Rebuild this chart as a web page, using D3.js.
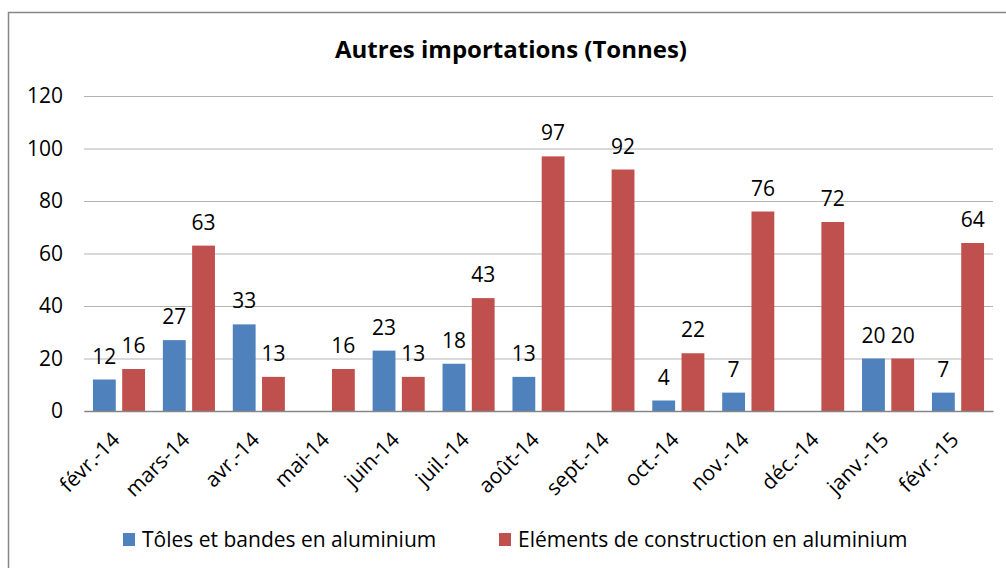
<!DOCTYPE html>
<html><head><meta charset="utf-8">
<script src="https://cdnjs.cloudflare.com/ajax/libs/d3/7.8.5/d3.min.js"></script>
<style>body{margin:0;background:#fff}svg{display:block}text{font-family:"Open Sans",sans-serif;fill:#000}</style>
</head><body>
<script>
const categories = ["févr.-14","mars-14","avr.-14","mai-14","juin-14","juil.-14","août-14","sept.-14","oct.-14","nov.-14","déc.-14","janv.-15","févr.-15"];
const seriesNames = ["Tôles et bandes en aluminium","Eléments de construction en aluminium"];
const toles = [12,27,33,null,23,18,13,null,4,7,null,20,7];
const elements = [16,63,13,16,13,43,97,92,22,76,72,20,64];
const yTicks = [0,20,40,60,80,100,120];
const colors = ["#4F81BD","#C0504D"];

const W=1006,H=568;
const FS=21;
const svg=d3.select("body").append("svg").attr("width",W).attr("height",H);
svg.append("rect").attr("x",8.5).attr("y",12.5).attr("width",1010).attr("height",600).attr("fill","#fff").attr("stroke","#868686").attr("stroke-width",1.5);

const L=84,R=993,T=96,B=411;
const x=d3.scaleBand().domain(categories).range([L,R]).paddingInner(0.255).paddingOuter(0.128);
const xs=d3.scaleBand().domain([0,1]).range([0,x.bandwidth()]).paddingInner(0.22);
const y=d3.scaleLinear().domain([0,120]).range([B,T]);

svg.append("text").attr("x",511).attr("y",58).attr("text-anchor","middle").style("font-weight","bold").style("font-size","24px").text("Autres importations (Tonnes)");

const ya=svg.append("g").attr("transform",`translate(${L},0)`).call(d3.axisLeft(y).tickValues(yTicks).tickSize(-(R-L)).tickPadding(21));
ya.select(".domain").remove();
ya.selectAll(".tick line").attr("stroke","#b3b3b3").attr("stroke-width",1);
ya.selectAll(".tick text").style("font-size",FS+"px").attr("font-family","Open Sans").attr("fill","#000");

const series=[toles,elements];
series.forEach((vals,si)=>{
  const g=svg.append("g");
  categories.forEach((c,i)=>{
    const v=vals[i]; if(v==null) return;
    g.append("rect").attr("x",x(c)+xs(si)).attr("y",y(v)).attr("width",xs.bandwidth()).attr("height",y(0)-y(v)).attr("fill",colors[si]);
    g.append("text").attr("x",x(c)+xs(si)+xs.bandwidth()/2).attr("y",y(v)-16).attr("text-anchor","middle").style("font-size",FS+"px").text(v);
  });
});

const xa=svg.append("g").attr("transform",`translate(0,${B})`).call(d3.axisBottom(x).tickSize(0).tickSizeOuter(0));
xa.select(".domain").attr("stroke","#868686").attr("stroke-width",1.5);
xa.selectAll(".tick text").style("font-size",FS+"px").attr("font-family","Open Sans").attr("fill","#000")
  .attr("text-anchor","end").attr("x",0).attr("y",0).attr("dy",0).attr("transform","translate(2,30) rotate(-45)");

const leg=[{x:123,t:seriesNames[0],c:colors[0]},{x:499,t:seriesNames[1],c:colors[1]}];
leg.forEach(d=>{
  svg.append("rect").attr("x",d.x).attr("y",533).attr("width",12).attr("height",13).attr("fill",d.c);
  svg.append("text").attr("x",d.x+19).attr("y",547).style("font-size",FS+"px").text(d.t);
});
</script>
</body></html>
